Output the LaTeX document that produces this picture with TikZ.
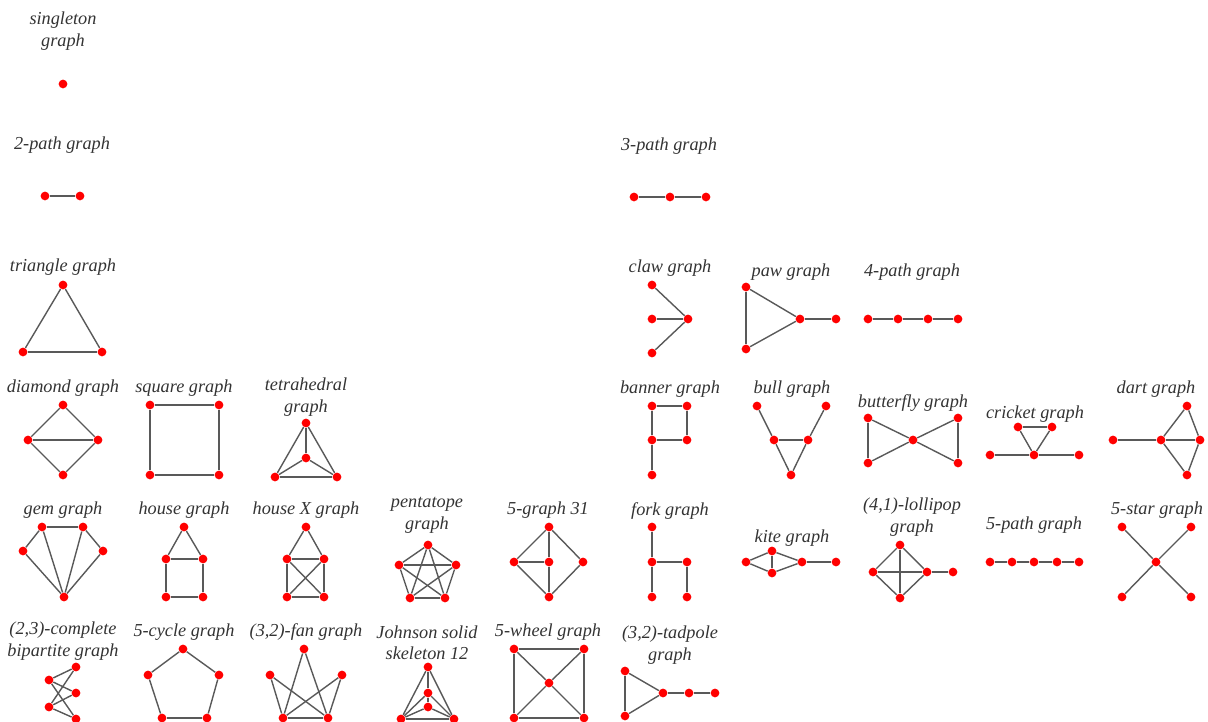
\documentclass[tikz,border=0pt]{standalone}
\usepackage{fontspec}
\setmainfont{Liberation Serif}
\usepackage{tikz}
\usepackage{xcolor}

\begin{document}
\begin{tikzpicture}[x=0.02cm,y=-0.02cm,
	vtx/.style={circle, fill=red, inner sep=0, minimum size=0.175cm},
	gline/.style={draw=black!65, line width=0.8pt},
	lab/.style={inner sep=0, align=center, yshift=-1pt, text=black!80, font=\fontsize{10.4}{12.5}\selectfont\itshape}]

		\useasboundingbox (0,0) rectangle (1208,722);

		%first column, small graphs
		\node[lab] (lsgl) at (63,29) {singleton\\graph};
		\node[vtx] (sgl1) at (63,84) {};

		\node[lab] (ltwop) at (62,143) {2-path graph};
		\foreach \n/\x in {1/45,2/80} \node[vtx] (twop\n) at (\x,196) {};
		\draw[gline] (twop1) -- (twop2);

		\node[lab] (lthreep) at (669,144) {3-path graph};
		\foreach \n/\x in {1/634,2/670,3/706} \node[vtx] (threep\n) at (\x,197) {};
		\foreach \a/\b in {1/2,2/3} \draw[gline] (threep\a) -- (threep\b);

		%three vertices, four vertices
		\node[lab] (ltri) at (63,265) {triangle graph};
		\foreach \n/\x/\y in {1/63/285,2/23/352,3/102/352} \node[vtx] (tri\n) at (\x,\y) {};
		\foreach \a/\b in {1/2,1/3,2/3} \draw[gline] (tri\a) -- (tri\b);

		\node[lab] (lclaw) at (670,266) {claw graph};
		\foreach \n/\x/\y in {1/652/285,2/652/319,3/652/353,4/688/319} \node[vtx] (claw\n) at (\x,\y) {};
		\foreach \a in {1,2,3} \draw[gline] (claw4) -- (claw\a);

		\node[lab] (lpaw) at (791,270) {paw graph};
		\foreach \n/\x/\y in {1/746/287,2/746/349,3/800/319,4/836/319} \node[vtx] (paw\n) at (\x,\y) {};
		\foreach \a/\b in {1/2,1/3,2/3,3/4} \draw[gline] (paw\a) -- (paw\b);

		\node[lab] (lfourp) at (912,270) {4-path graph};
		\foreach \n/\x in {1/868,2/898,3/928,4/958} \node[vtx] (fourp\n) at (\x,319) {};
		\foreach \a/\b in {1/2,2/3,3/4} \draw[gline] (fourp\a) -- (fourp\b);

		\node[lab] (ldia) at (63,386) {diamond graph};
		\foreach \n/\x/\y in {1/63/405,2/28/440,3/98/440,4/63/475} \node[vtx] (dia\n) at (\x,\y) {};
		\foreach \a/\b in {1/2,1/3,2/3,2/4,3/4} \draw[gline] (dia\a) -- (dia\b);

		\node[lab] (lsq) at (184,386) {square graph};
		\foreach \n/\x/\y in {1/150/405,2/219/405,3/219/475,4/150/475} \node[vtx] (sq\n) at (\x,\y) {};
		\foreach \a/\b in {1/2,2/3,3/4,4/1} \draw[gline] (sq\a) -- (sq\b);

		\node[lab] (ltet) at (306,395) {tetrahedral\\graph};
		\foreach \n/\x/\y in {1/306/423,2/306/458,3/275/477,4/337/477} \node[vtx] (tet\n) at (\x,\y) {};
		\foreach \a/\b in {1/2,1/3,1/4,2/3,2/4,3/4} \draw[gline] (tet\a) -- (tet\b);

		%five vertices, right block
		\node[lab] (lban) at (670,387) {banner graph};
		\foreach \n/\x/\y in {1/652/406,2/687/406,3/687/440,4/652/440,5/652/475} \node[vtx] (ban\n) at (\x,\y) {};
		\foreach \a/\b in {1/2,2/3,3/4,4/1,4/5} \draw[gline] (ban\a) -- (ban\b);

		\node[lab] (lbull) at (792,387) {bull graph};
		\foreach \n/\x/\y in {1/757/406,2/826/406,3/774/440,4/808/440,5/791/475} \node[vtx] (bull\n) at (\x,\y) {};
		\foreach \a/\b in {1/3,2/4,3/4,3/5,4/5} \draw[gline] (bull\a) -- (bull\b);

		\node[lab] (lbfly) at (913,401) {butterfly graph};
		\foreach \n/\x/\y in {1/868/418,2/868/463,3/913/440,4/958/418,5/958/463} \node[vtx] (bfly\n) at (\x,\y) {};
		\foreach \a/\b in {1/2,1/3,2/3,3/4,3/5,4/5} \draw[gline] (bfly\a) -- (bfly\b);

		\node[lab] (lcrk) at (1035,412) {cricket graph};
		\foreach \n/\x/\y in {1/1018/427,2/1052/427,3/1034/455,4/990/455,5/1079/455} \node[vtx] (crk\n) at (\x,\y) {};
		\foreach \a/\b in {1/2,1/3,2/3,4/3,3/5} \draw[gline] (crk\a) -- (crk\b);

		\node[lab] (ldart) at (1156,387) {dart graph};
		\foreach \n/\x/\y in {1/1113/440,2/1161/440,3/1187/406,4/1200/440,5/1187/475} \node[vtx] (dart\n) at (\x,\y) {};
		\foreach \a/\b in {1/2,2/3,2/4,2/5,3/4,4/5} \draw[gline] (dart\a) -- (dart\b);

		%five vertices, left block
		\node[lab] (lgem) at (63,508) {gem graph};
		\foreach \n/\x/\y in {1/23/551,2/42/527,3/83/527,4/103/551,5/64/597} \node[vtx] (gem\n) at (\x,\y) {};
		\foreach \a/\b in {1/2,2/3,3/4,1/5,2/5,3/5,4/5} \draw[gline] (gem\a) -- (gem\b);

		\node[lab] (lhse) at (184,508) {house graph};
		\foreach \n/\x/\y in {1/184/527,2/166/559,3/203/559,4/166/597,5/203/597} \node[vtx] (hse\n) at (\x,\y) {};
		\foreach \a/\b in {1/2,1/3,2/3,2/4,3/5,4/5} \draw[gline] (hse\a) -- (hse\b);

		\node[lab] (lhsx) at (306,508) {house X graph};
		\foreach \n/\x/\y in {1/306/527,2/287/559,3/324/559,4/287/597,5/324/597} \node[vtx] (hsx\n) at (\x,\y) {};
		\foreach \a/\b in {1/2,1/3,2/3,2/4,3/5,4/5,2/5,3/4} \draw[gline] (hsx\a) -- (hsx\b);

		\node[lab] (lpent) at (427,514) {pentatope\\graph};
		\foreach \n/\x/\y in {1/428/545,2/399/565,3/456/565,4/410/598,5/445/598} \node[vtx] (pent\n) at (\x,\y) {};
		\foreach \a/\b in {1/2,1/3,1/4,1/5,2/3,2/4,2/5,3/4,3/5,4/5} \draw[gline] (pent\a) -- (pent\b);

		\node[lab] (lgtt) at (548,508) {5-graph 31};
		\foreach \n/\x/\y in {1/549/527,2/514/562,3/549/562,4/583/562,5/549/597} \node[vtx] (gtt\n) at (\x,\y) {};
		\foreach \a/\b in {1/2,1/3,1/4,2/3,2/5,3/5,4/5} \draw[gline] (gtt\a) -- (gtt\b);

		\node[lab] (lfork) at (670,509) {fork graph};
		\foreach \n/\x/\y in {1/652/527,2/652/562,3/687/562,4/652/597,5/687/597} \node[vtx] (fork\n) at (\x,\y) {};
		\foreach \a/\b in {1/2,2/4,2/3,3/5} \draw[gline] (fork\a) -- (fork\b);

		\node[lab] (lkite) at (792,536) {kite graph};
		\foreach \n/\x/\y in {1/746/562,2/772/551,3/772/573,4/802/562,5/836/562} \node[vtx] (kite\n) at (\x,\y) {};
		\foreach \a/\b in {1/2,1/3,2/3,2/4,3/4,4/5} \draw[gline] (kite\a) -- (kite\b);

		\node[lab] (llol) at (912,515) {(4,1)-lollipop\\graph};
		\foreach \n/\x/\y in {1/900/545,2/873/572,3/927/572,4/900/598,5/953/572} \node[vtx] (lol\n) at (\x,\y) {};
		\foreach \a/\b in {1/2,1/3,1/4,2/3,2/4,3/4,3/5} \draw[gline] (lol\a) -- (lol\b);

		\node[lab] (lfivep) at (1034,523) {5-path graph};
		\foreach \n/\x in {1/990,2/1012,3/1034,4/1057,5/1079} \node[vtx] (fivep\n) at (\x,562) {};
		\foreach \a/\b in {1/2,2/3,3/4,4/5} \draw[gline] (fivep\a) -- (fivep\b);

		\node[lab] (lstar) at (1157,508) {5-star graph};
		\foreach \n/\x/\y in {1/1122/527,2/1191/527,3/1122/597,4/1191/597,5/1156/562} \node[vtx] (star\n) at (\x,\y) {};
		\foreach \a in {1,2,3,4} \draw[gline] (star5) -- (star\a);

		%bottom row
		\node[lab] (lbip) at (63,639) {(2,3)-complete\\bipartite graph};
		\foreach \n/\x/\y in {1/49/680,2/49/707,3/76/667,4/76/693,5/76/719} \node[vtx] (bip\n) at (\x,\y) {};
		\foreach \a in {1,2} {
			\foreach \b in {3,4,5} {
				\draw[gline] (bip\a) -- (bip\b);
			}
		}

		\node[lab] (lcyc) at (184,630) {5-cycle graph};
		\foreach \n/\x/\y in {1/183/649,2/219/675,3/207/718,4/162/718,5/148/675} \node[vtx] (cyc\n) at (\x,\y) {};
		\foreach \a/\b in {1/2,2/3,3/4,4/5,5/1} \draw[gline] (cyc\a) -- (cyc\b);

		\node[lab] (lfan) at (306,630) {(3,2)-fan graph};
		\foreach \n/\x/\y in {1/304/649,2/270/675,3/342/675,4/283/718,5/328/718} \node[vtx] (fan\n) at (\x,\y) {};
		\foreach \a/\b in {1/4,1/5,2/4,2/5,3/4,3/5,4/5} \draw[gline] (fan\a) -- (fan\b);

		\node[lab] (ljss) at (427,641) {Johnson solid\\skeleton 12};
		\foreach \n/\x/\y in {1/428/667,2/428/693,3/428/707,4/401/719,5/454/719} \node[vtx] (jss\n) at (\x,\y) {};
		\foreach \a/\b in {1/2,1/4,1/5,2/3,2/4,2/5,3/4,3/5,4/5} \draw[gline] (jss\a) -- (jss\b);

		\node[lab] (lwhl) at (548,630) {5-wheel graph};
		\foreach \n/\x/\y in {1/514/649,2/584/649,3/584/718,4/514/718,5/549/683} \node[vtx] (whl\n) at (\x,\y) {};
		\foreach \a/\b in {1/2,2/3,3/4,4/1,5/1,5/2,5/3,5/4} \draw[gline] (whl\a) -- (whl\b);

		\node[lab] (ltad) at (670,643) {(3,2)-tadpole\\graph};
		\foreach \n/\x/\y in {1/625/671,2/625/716,3/663/693,4/689/693,5/715/693} \node[vtx] (tad\n) at (\x,\y) {};
		\foreach \a/\b in {1/2,1/3,2/3,3/4,4/5} \draw[gline] (tad\a) -- (tad\b);
	\end{tikzpicture}
\end{document}
